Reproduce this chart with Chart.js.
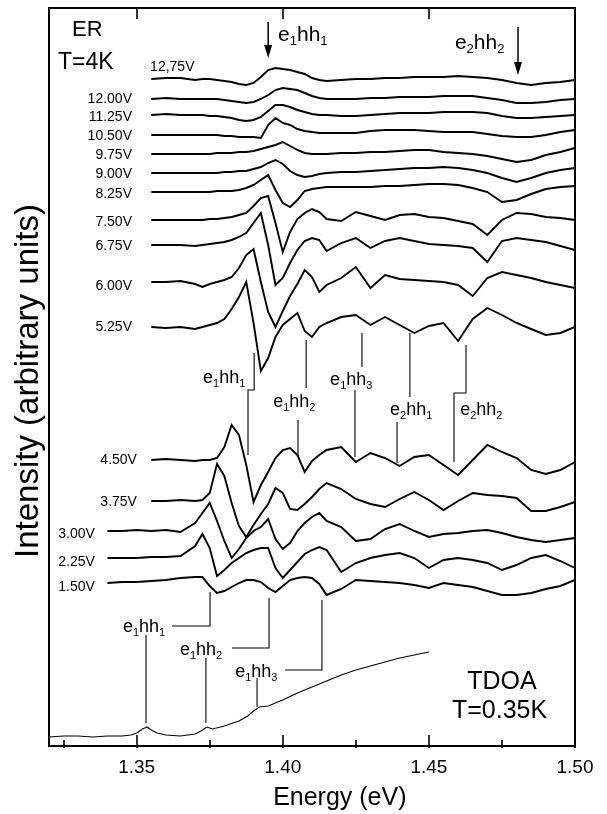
<!DOCTYPE html>
<html><head><meta charset="utf-8">
<script src="https://cdn.jsdelivr.net/npm/chart.js@4.4.1/dist/chart.umd.min.js"></script>
<style>html,body{margin:0;padding:0;background:#fff}#wrap{width:607px;height:814px}</style>
</head><body><div id="wrap"><canvas id="c" width="607" height="814"></canvas></div>
<script>
// ---- DATA ----
const energy = [1.340,1.345,1.350,1.355,1.360,1.365,1.370,1.3725,1.375,1.3775,1.380,1.3825,1.385,1.3875,1.390,1.3925,1.395,1.3975,1.400,1.4025,1.405,1.4075,1.410,1.4125,1.415,1.420,1.425,1.430,1.435,1.440,1.445,1.450,1.455,1.460,1.465,1.470,1.475,1.480,1.485,1.490,1.495,1.500];
const voltages = ["12,75V","12.00V","11.25V","10.50V","9.75V","9.00V","8.25V","7.50V","6.75V","6.00V","5.25V","4.50V","3.75V","3.00V","2.25V","1.50V"];
const baselines = [667,647,631,611,592,573,554,526,501,464,419,286,245,215,188,163];
const er1275 = [null,null,null,0,1,1,-1,0,0,-1,-2,-3,-5,-6,-4,2,9,11,10,9,7,5,1,-1,-2,-1,0,0,1,1,2,2,2,3,2,1,-1,-4,-6,-4,-3,-1];
const er1200 = [null,null,null,0,1,0,0,0,0,0,-1,-2,-3,-4,-3,0,4,9,11,10,9,6,3,1,0,0,0,1,1,2,2,2,3,3,3,1,-1,-4,-4,-3,-1,0];
const er1125 = [null,null,null,0,1,0,0,0,-1,-1,-2,-3,-5,-6,-5,-2,4,10,10,8,5,3,1,0,0,-1,-1,0,1,2,2,2,3,3,3,2,-1,-3,-3,-2,-1,0];
const er1050 = [null,null,null,0,0,0,0,0,0,0,-1,-1,-2,-2,-2,-3,10,17,12,10,6,4,3,2,2,2,2,4,5,5,5,4,3,3,3,1,-1,-2,-2,0,3,5];
const er975  = [null,null,null,0,0,0,0,0,0,1,1,1,2,2,3,5,7,9,12,8,4,1,0,0,0,1,1,2,2,3,4,4,2,1,0,-2,-5,-8,-6,-1,2,6];
const er900  = [null,null,null,0,0,0,0,0,0,0,1,1,2,2,4,6,10,13,9,2,-2,-4,-3,-1,0,1,1,2,3,4,5,5,6,5,3,0,-5,-9,-5,0,3,5];
const er825  = [null,null,null,0,0,0,0,0,0,1,1,1,2,4,7,12,17,2,-11,-15,-8,1,3,4,5,5,5,5,6,6,7,8,8,7,4,0,-10,-8,-2,3,5,6];
const er750  = [null,null,null,0,0,0,0,0,1,1,2,3,5,7,14,22,24,-3,-32,-12,1,7,11,8,1,-1,8,4,0,5,6,3,2,-1,-4,-15,0,7,6,3,2,0];
const er675  = [null,null,null,0,0,0,-1,0,1,2,3,5,8,12,22,32,0,-40,-33,-18,-5,4,7,5,-6,2,7,-3,4,7,4,1,0,-1,-3,-17,4,7,5,3,-1,-5];
const er600  = [null,null,null,0,0,1,-2,-5,-2,0,2,5,14,27,33,0,-30,-45,-29,-14,-2,12,5,-10,-3,4,15,-6,7,3,2,1,0,-3,-14,4,10,7,4,0,-3,-6];
const er525  = [null,null,null,0,-1,0,-2,0,2,4,8,18,30,45,4,-44,-31,-10,2,8,14,-4,-10,0,4,10,12,2,10,2,-6,1,4,-14,8,19,12,4,-2,-8,-6,0];
const er450  = [null,null,null,0,1,0,-1,0,0,2,13,35,25,-5,-42,-25,-12,2,10,12,5,-12,-1,5,10,13,-2,7,2,-6,3,5,-5,-15,0,15,8,2,-10,-14,-10,-2];
const er375  = [null,null,null,0,0,1,0,1,8,37,25,-2,-25,-36,-24,-13,-3,13,8,-8,-9,-3,4,12,18,12,2,-3,-6,2,9,1,-9,0,8,6,5,3,-10,-10,-6,-1];
const er300  = [0,0,1,0,1,-1,8,18,28,10,-10,-27,-18,-7,0,4,12,-8,-18,-12,0,8,14,18,10,4,-10,-8,2,7,0,-6,-3,-2,0,1,-2,-6,-9,-11,-9,-7];
const er225  = [0,0,0,1,1,2,12,24,10,-18,-12,-5,0,5,8,10,10,-10,-20,-12,-4,4,8,11,8,-14,-5,0,3,5,0,-10,-2,0,-2,-5,-12,-7,0,3,-3,-10];
const er150  = [0,1,1,2,3,5,6,6,-3,-10,-8,-4,0,3,3,1,-5,-9,-3,3,5,6,5,-1,-12,-6,3,2,1,0,-2,-5,0,-2,-4,-8,-12,-12,-10,-6,-3,3];
const erTraces = [er1275,er1200,er1125,er1050,er975,er900,er825,er750,er675,er600,er525,er450,er375,er300,er225,er150];

const tdoaEnergy = [1.320,1.325,1.330,1.335,1.340,1.345,1.348,1.350,1.352,1.3535,1.355,1.357,1.360,1.365,1.370,1.372,1.374,1.376,1.380,1.385,1.388,1.390,1.392,1.395,1.400,1.405,1.410,1.415,1.420,1.425,1.430,1.435,1.440,1.445,1.450];
const tdoaSignal = [9,10,10,9,10,10,11,13,17,19,16,13,11,10,12,15,19,17,20,25,30,35,39,40,46,53,59,65,71,76,80,84,88,91,94];

// transition marker lines (null separates segments)
const markerE = [1.3902,1.3902,1.3881,1.3881,null,1.4080,1.4080,null,1.4052,1.4052,null,1.4271,1.4271,null,1.4247,1.4247,null,1.4435,1.4435,null,1.4391,1.4391,null,1.4627,1.4627,1.4586,1.4586,null,
                 1.3532,1.3532,null,1.3621,1.3751,1.3751,null,1.3737,1.3737,null,1.3826,1.3953,1.3953,null,1.3912,1.3912,null,1.4008,1.4134,1.4134];
const markerV = [393,356,356,291,null,406,358,null,326,290,null,413,379,null,356,289,null,413,349,null,324,283,null,401,353,353,284,null,
                 111,23,null,120,120,154,null,88,23,null,98,98,148,null,68,39,null,76,76,146];
const arrowE = [1.3950,1.4805];
const arrowTop = [724,719];
const arrowTip = [688,671];

const majorTicks = [1.35,1.40,1.45,1.50];
const minorTicks = [1.325,1.375,1.425,1.475];

// ---- LAYOUT (text placement) ----
const FONT = '"Liberation Sans", Arial, Helvetica, sans-serif';
const voltLabelE = [1.3546,1.3484,1.3484,1.3484,1.3484,1.3484,1.3484,1.3484,1.3484,1.3484,1.3484,1.3501,1.3501,1.3357,1.3357,1.3357];
const voltLabelV = [679,647,629,610,591,572,552,524,500,460,419,286,244,212,184,159];
const textItems = [
  {p:[["ER",0]], e:1.3279, v:716, s:22},
  {p:[["T=4K",0]], e:1.3231, v:683, s:23},
  {p:[["TDOA",0]], e:1.4631, v:64, s:25},
  {p:[["T=0.35K",0]], e:1.4579, v:35, s:25},
  {p:[["e",0],["1",1],["hh",0],["1",1]], e:1.3984, v:711, s:21},
  {p:[["e",0],["2",1],["hh",0],["2",1]], e:1.4589, v:703, s:21},
  {p:[["e",0],["1",1],["hh",0],["1",1]], e:1.3727, v:368, s:18},
  {p:[["e",0],["1",1],["hh",0],["2",1]], e:1.3967, v:344, s:18},
  {p:[["e",0],["1",1],["hh",0],["3",1]], e:1.4162, v:366, s:18},
  {p:[["e",0],["2",1],["hh",0],["1",1]], e:1.4367, v:336, s:18},
  {p:[["e",0],["2",1],["hh",0],["2",1]], e:1.4607, v:336, s:18},
  {p:[["e",0],["1",1],["hh",0],["1",1]], e:1.3453, v:119, s:18},
  {p:[["e",0],["1",1],["hh",0],["2",1]], e:1.3648, v:96, s:18},
  {p:[["e",0],["1",1],["hh",0],["3",1]], e:1.3837, v:74, s:18}
];

// ---- DATASETS ----
const datasets = [];
erTraces.forEach((dev, k) => {
  datasets.push({
    data: energy.map((e, i) => ({x: e, y: dev[i] === null ? null : baselines[k] + dev[i]})),
    borderColor: '#000', borderWidth: 1.9, pointRadius: 0, spanGaps: false
  });
});
datasets.push({
  data: tdoaEnergy.map((e, i) => ({x: e, y: tdoaSignal[i]})),
  borderColor: '#000', borderWidth: 1.1, pointRadius: 0
});
let seg = [];
const pushSeg = () => { if (seg.length) datasets.push({data: seg, borderColor: '#000', borderWidth: 1.1, pointRadius: 0}); seg = []; };
markerE.forEach((e, i) => { if (e === null) pushSeg(); else seg.push({x: e, y: markerV[i]}); });
pushSeg();
arrowE.forEach((e, i) => datasets.push({data: [{x: e, y: arrowTop[i]}, {x: e, y: arrowTip[i] + 8}], borderColor: '#000', borderWidth: 1.5, pointRadius: 0}));

function drawParts(ctx, parts, x, y, size, align) {
  let total = 0;
  const widths = parts.map(([t, sub]) => { ctx.font = (sub ? Math.round(size * 0.62) : size) + 'px ' + FONT; const w = ctx.measureText(t).width; total += w; return w; });
  let cx = align === 'right' ? x - total : x;
  parts.forEach(([t, sub], i) => {
    ctx.font = (sub ? Math.round(size * 0.62) : size) + 'px ' + FONT;
    ctx.fillText(t, cx, sub ? y + size * 0.32 : y);
    cx += widths[i];
  });
}

const decor = {
  id: 'decor',
  afterDatasetsDraw(chart) {
    const {ctx, chartArea: a} = chart;
    const xs = chart.scales.x, ys = chart.scales.y;
    ctx.save();
    ctx.strokeStyle = '#000'; ctx.fillStyle = '#000';
    ctx.lineWidth = 2;
    ctx.strokeRect(a.left, a.top, a.right - a.left, a.bottom - a.top);
    ctx.lineWidth = 1.6;
    const ln = (x1, y1, x2, y2) => { ctx.beginPath(); ctx.moveTo(x1, y1); ctx.lineTo(x2, y2); ctx.stroke(); };
    majorTicks.forEach(t => { const px = Math.round(xs.getPixelForValue(t)); ln(px, a.bottom + 2, px, a.bottom - 11); if (t < 1.499) ln(px, a.top, px, a.top + 11); });
    minorTicks.forEach(t => { const px = Math.round(xs.getPixelForValue(t)); ln(px, a.bottom + 2, px, a.bottom - 6); });
    // arrow heads
    arrowE.forEach((e, i) => {
      const px = xs.getPixelForValue(e), py = ys.getPixelForValue(arrowTip[i]);
      ctx.beginPath(); ctx.moveTo(px, py); ctx.lineTo(px - 4, py - 13); ctx.lineTo(px + 4, py - 13); ctx.closePath(); ctx.fill();
    });
    ctx.textBaseline = 'middle';
    // voltage labels
    voltages.forEach((t, i) => {
      ctx.font = '14px ' + FONT;
      ctx.textAlign = i === 0 ? 'left' : 'right';
      ctx.fillText(t, xs.getPixelForValue(voltLabelE[i]), ys.getPixelForValue(voltLabelV[i]));
    });
    ctx.textAlign = 'left';
    textItems.forEach(it => drawParts(ctx, it.p, xs.getPixelForValue(it.e), ys.getPixelForValue(it.v), it.s, 'left'));
    // axis titles
    ctx.font = '25px ' + FONT;
    ctx.textAlign = 'left';
    ctx.fillText('Energy (eV)', xs.getPixelForValue(1.3967), a.bottom + 52);
    ctx.save();
    ctx.translate(a.left - 20, (a.top + a.bottom) / 2 + 4);
    ctx.rotate(-Math.PI / 2);
    ctx.textAlign = 'center';
    ctx.font = '33px ' + FONT;
    ctx.fillText('Intensity (arbitrary units)', 0, 0);
    ctx.restore();
    ctx.restore();
  }
};

new Chart(document.getElementById('c'), {
  type: 'line',
  data: {datasets},
  options: {
    responsive: false, animation: false, devicePixelRatio: 1,
    layout: {padding: {left: 49, right: 32, top: 8, bottom: 0}},
    plugins: {legend: {display: false}, tooltip: {enabled: false}},
    elements: {point: {radius: 0}, line: {tension: 0}},
    scales: {
      x: {
        type: 'linear', min: 1.32, max: 1.50,
        afterBuildTicks: s => { s.ticks = majorTicks.map(v => ({value: v})); },
        afterFit: s => { s.height = 68; },
        grid: {display: false, drawTicks: false},
        border: {display: false},
        ticks: {padding: 10, color: '#000', font: {size: 19, family: FONT}, maxRotation: 0, autoSkip: false, callback: v => Number(v).toFixed(2)}
      },
      y: {type: 'linear', min: 0, max: 738, display: false}
    }
  },
  plugins: [decor]
});
</script>
</body></html>
